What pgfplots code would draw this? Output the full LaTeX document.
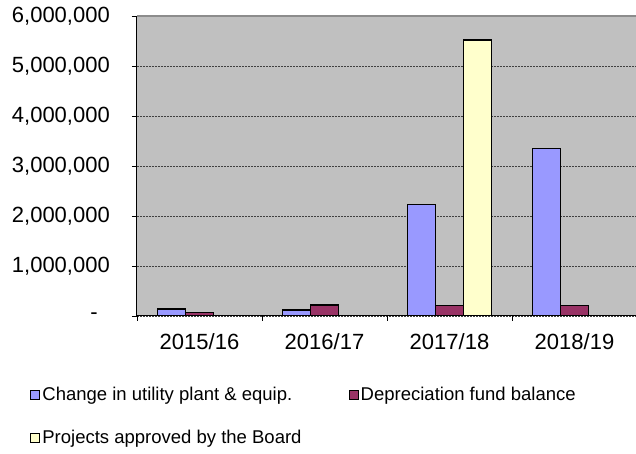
\documentclass[border=0pt]{standalone}
\usepackage{fontspec}
\setmainfont{Liberation Sans}
\usepackage{pgfplots}
\pgfplotsset{compat=1.18}
\definecolor{cblue}{HTML}{9999FF}
\definecolor{cmaroon}{HTML}{993366}
\definecolor{cyellow}{HTML}{FFFFCC}
\definecolor{cbg}{HTML}{C0C0C0}
\begin{document}
\begin{tikzpicture}
\begin{axis}[
  scale only axis, width=500pt, height=300pt,
  xmin=-0.5, xmax=3.5, ymin=0, ymax=6000000,
  axis background/.style={fill=cbg},
  axis x line*=bottom, axis y line*=left,
  axis line style={black, line width=1pt},
  ybar=0pt, bar width=28pt,
  xtick={0,1,2,3},
  xticklabels={2015/16,2016/17,2017/18,2018/19},
  xtick style={draw=none},
  extra x ticks={-0.5,0.5,1.5,2.5,3.5},
  extra x tick labels={},
  extra x tick style={xtick style={draw=black, line width=0.8pt}},
  scaled y ticks=false,
  ytick={0,1000000,2000000,3000000,4000000,5000000,6000000},
  yticklabels={{-\kern12pt},{1,000,000},{2,000,000},{3,000,000},{4,000,000},{5,000,000},{6,000,000}},
  extra y ticks={6000000},
  extra y tick labels={},
  extra y tick style={major grid style={solid, black!45, line width=1.5pt}},
  ytick style={black, line width=0.8pt},
  tick align=outside, major tick length=5pt,
  ymajorgrids,
  major grid style={dash pattern=on 2pt off 1pt, black!75, line width=0.7pt},
  ticklabel style={font=\fontsize{22}{26}\selectfont},
  yticklabel style={inner sep=0pt, xshift=-22pt},
  xticklabel style={inner sep=0pt, yshift=-12pt},
  legend columns=2,
  legend cell align=left,
  legend image code/.code={\draw[#1, line width=1.2pt] (0pt,-5pt) rectangle (9pt,4pt);},
  legend style={at={(axis description cs:-0.214,-0.23)}, anchor=north west,
    draw=none, fill=none, inner sep=0pt,
    font=\fontsize{18.5}{22}\selectfont,
    /tikz/column 2/.style={column sep=45pt},
    row sep=24pt},
]
\addplot[fill=cblue, draw=black, line width=1.5pt] coordinates {(0,140000) (1,120000) (2,2230000) (3,3350000)};
\addplot[fill=cmaroon, draw=black, line width=1.5pt] coordinates {(0,66000) (1,215000) (2,208000) (3,212000)};
\addplot[fill=cyellow, draw=black, line width=1.5pt] coordinates {(2,5520000)};
\legend{Change in utility plant \& equip.,Depreciation fund balance,Projects approved by the Board}
\end{axis}
\pgfresetboundingbox
\path[use as bounding box] (-137pt,-138pt) rectangle (499pt,316pt);
\end{tikzpicture}
\end{document}
